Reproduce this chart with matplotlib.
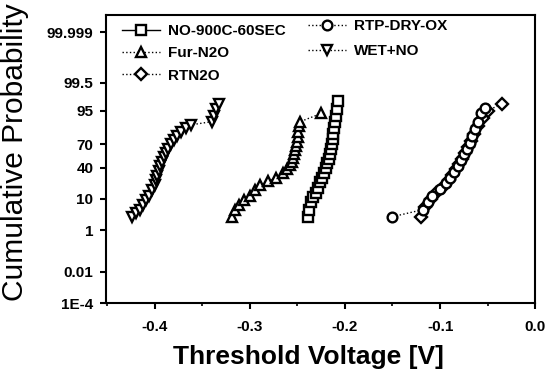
import matplotlib
matplotlib.use('Agg')
import matplotlib.pyplot as plt
import numpy as np
from statistics import NormalDist

plt.rcParams['font.family'] = ['Liberation Sans', 'DejaVu Sans']

# threshold voltage [V] and cumulative probability [%]
no900_v = [-0.239, -0.238, -0.236, -0.233, -0.230, -0.228, -0.226, -0.224, -0.222, -0.220, -0.219,
           -0.217, -0.216, -0.215, -0.214, -0.213, -0.212, -0.211, -0.210, -0.209, -0.208, -0.207]
no900_p = [3, 5, 8, 11, 14, 18, 23, 28, 34, 40, 46, 52, 58, 64, 70, 76, 81, 86, 90, 93, 95.5, 97.5]

furn2o_v = [-0.319, -0.315, -0.311, -0.306, -0.300, -0.294, -0.289, -0.281, -0.272, -0.265, -0.261,
            -0.258, -0.256, -0.254, -0.253, -0.252, -0.251, -0.250, -0.249, -0.249, -0.248, -0.247, -0.225]
furn2o_p = [3, 5, 7, 9, 12, 16, 20, 24, 28, 33, 38, 43, 48, 53, 58, 63, 68, 73, 78, 83, 87, 90, 94]

rtn2o_v = [-0.120, -0.116, -0.110, -0.104, -0.097, -0.091, -0.087, -0.083, -0.080, -0.077, -0.074,
           -0.071, -0.068, -0.064, -0.060, -0.055, -0.050, -0.035]
rtn2o_p = [3, 6, 10, 14, 19, 25, 31, 38, 45, 52, 60, 67, 74, 81, 87, 92, 95, 97]

rtp_v = [-0.150, -0.118, -0.113, -0.108, -0.100, -0.094, -0.090, -0.085, -0.081, -0.078, -0.075,
         -0.072, -0.069, -0.066, -0.063, -0.060, -0.057, -0.053]
rtp_p = [3, 5, 8, 12, 17, 22, 28, 35, 42, 50, 58, 65, 72, 79, 85, 90, 94, 96]

wet_v = [-0.424, -0.419, -0.415, -0.412, -0.409, -0.406, -0.403, -0.400, -0.398, -0.397, -0.395,
         -0.394, -0.392, -0.390, -0.388, -0.386, -0.383, -0.380, -0.376, -0.372, -0.367, -0.362,
         -0.340, -0.338, -0.335, -0.332]
wet_p = [3, 4, 5, 7, 9, 12, 16, 20, 25, 30, 36, 42, 48, 54, 60, 65, 70, 75, 79, 83, 86, 88,
         90, 93, 95.5, 97]

ytick_vals = [1e-4, 0.01, 1, 10, 40, 70, 95, 99.5, 99.999]
ytick_labels = ['1E-4', '0.01', '1', '10', '40', '70', '95', '99.5', '99.999']

nd = NormalDist()
_ppf = np.vectorize(nd.inv_cdf, otypes=[float])
_cdf = np.vectorize(nd.cdf, otypes=[float])

def prob_fwd(p):
    p = np.clip(np.asarray(p, dtype=float) / 100.0, 1e-12, 1 - 1e-12)
    return _ppf(p)

def prob_inv(z):
    return _cdf(np.asarray(z, dtype=float)) * 100.0

W, H = 549, 376
fig = plt.figure(figsize=(W / 100, H / 100), dpi=100)
ax = fig.add_axes([0.193, 0.194, 0.782, 0.766])
ax.set_yscale('function', functions=(prob_fwd, prob_inv))

mk = dict(markerfacecolor='white', markeredgecolor='black', markeredgewidth=1.7,
          markersize=7, color='black', linewidth=1.0)
h1, = ax.plot(no900_v, no900_p, linestyle='-', marker='s', label='NO-900C-60SEC', **mk)
h2, = ax.plot(furn2o_v, furn2o_p, linestyle=':', marker='^', label='Fur-N2O', **mk)
h3, = ax.plot(rtn2o_v, rtn2o_p, linestyle=':', marker='D', label='RTN2O', **dict(mk, markersize=6))
h4, = ax.plot(rtp_v, rtp_p, linestyle=':', marker='o', label='RTP-DRY-OX', **mk)
h5, = ax.plot(wet_v, wet_p, linestyle=':', marker='v', label='WET+NO', **mk)

ax.set_xlim(-0.451, 0.0)
ax.set_ylim(1e-4, float(prob_inv(4.83)))
ax.set_yticks(ytick_vals)
ax.set_yticklabels(ytick_labels)
ax.yaxis.set_minor_locator(plt.NullLocator())
ax.set_xticks([-0.4, -0.3, -0.2, -0.1, 0.0])
ax.set_xticklabels(['-0.4', '-0.3', '-0.2', '-0.1', '0.0'])
ax.set_xticks([-0.45, -0.35, -0.25, -0.15, -0.05], minor=True)

ax.tick_params(axis='both', which='major', direction='out', length=4, width=1.5,
               labelsize=11)
ax.tick_params(axis='x', which='major', pad=8)
ax.tick_params(axis='y', which='major', pad=5)
ax.tick_params(axis='x', which='minor', direction='out', length=2, width=1.2)
for lab in ax.get_xticklabels() + ax.get_yticklabels():
    lab.set_fontweight('bold')
for s in ax.spines.values():
    s.set_linewidth(1.5)

fig.text(308 / W, 1 - 357 / H, 'Threshold Voltage [V]', fontsize=19, fontweight='bold',
         ha='center', va='center')
fig.text(1 / W, 1 - 152 / H, 'Cumulative Probability', fontsize=21.5, rotation=90,
         ha='left', va='center')

leg_kw = dict(frameon=False, prop={'size': 11, 'weight': 'bold'}, handlelength=2.5,
              handletextpad=0.5, labelspacing=0.55, borderpad=0, borderaxespad=0,
              loc='upper left', bbox_transform=fig.transFigure)
leg1 = ax.legend([h1, h2, h3], ['NO-900C-60SEC', 'Fur-N2O', 'RTN2O'],
                 bbox_to_anchor=(122 / W, 1 - 24 / H), **leg_kw)
ax.add_artist(leg1)
ax.legend([h4, h5], ['RTP-DRY-OX', 'WET+NO'],
          bbox_to_anchor=(308 / W, 1 - 19 / H), **dict(leg_kw, labelspacing=0.75))

fig.savefig('out.png', dpi=100)
